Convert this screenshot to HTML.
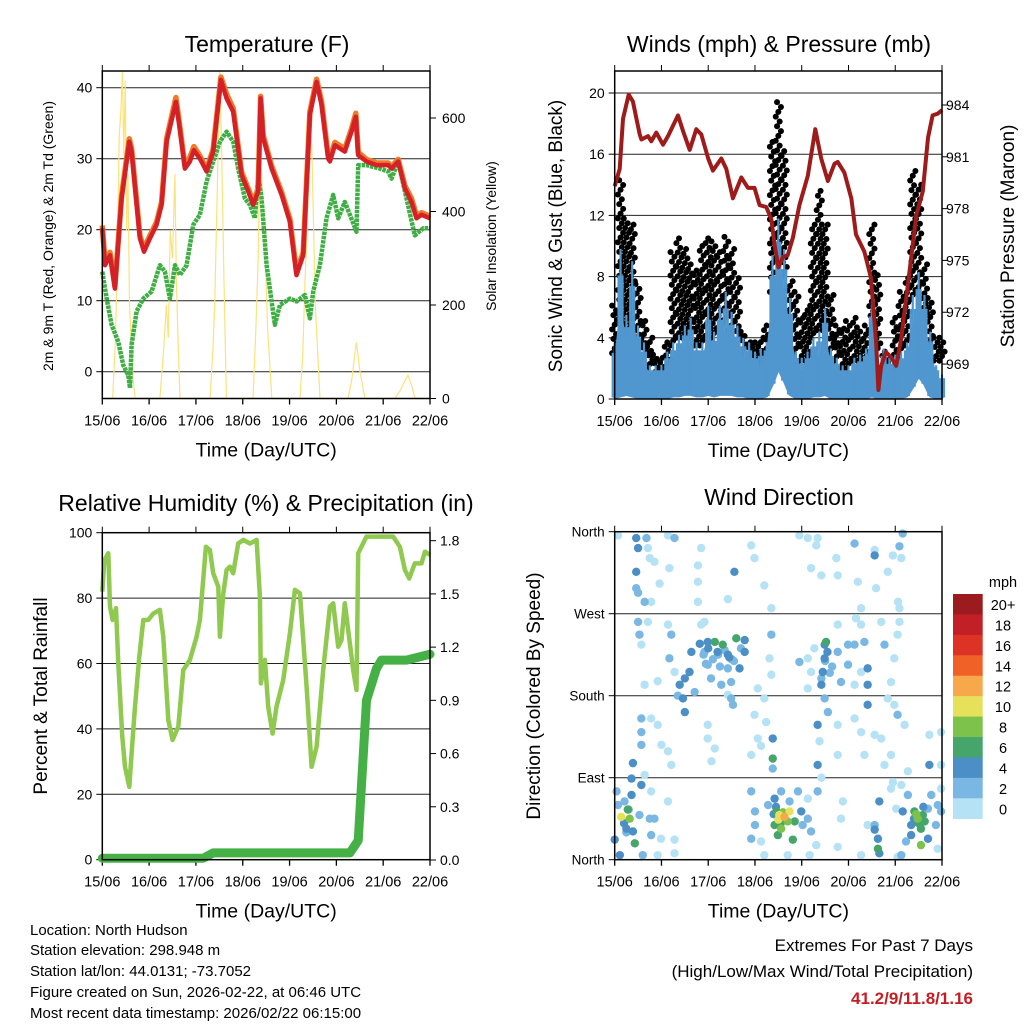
<!DOCTYPE html>
<html><head><meta charset="utf-8"><style>
html,body{margin:0;padding:0;background:#fff;}
svg{display:block;font-family:"Liberation Sans",sans-serif;}
</style></head><body>
<svg id="fig" width="1024" height="1024" viewBox="0 0 1024 1024" xmlns="http://www.w3.org/2000/svg">
<rect x="0" y="0" width="1024" height="1024" fill="#fff"/>
<text x="267" y="52" font-size="23" text-anchor="middle">Temperature (F)</text>
<text x="779" y="52" font-size="23" text-anchor="middle">Winds (mph) &amp; Pressure (mb)</text>
<text x="266" y="511" font-size="23" text-anchor="middle">Relative Humidity (%) &amp; Precipitation (in)</text>
<text x="779" y="505" font-size="23" text-anchor="middle">Wind Direction</text>
<text transform="translate(53,236) rotate(-90)" font-size="14" text-anchor="middle">2m &amp; 9m T (Red, Orange) &amp; 2m Td (Green)</text>
<text transform="translate(496,236) rotate(-90)" font-size="14" text-anchor="middle">Solar Insolation (Yellow)</text>
<text transform="translate(562,236) rotate(-90)" font-size="19" text-anchor="middle">Sonic Wind &amp; Gust (Blue, Black)</text>
<text transform="translate(1014,236) rotate(-90)" font-size="19" text-anchor="middle">Station Pressure (Maroon)</text>
<text transform="translate(47,696) rotate(-90)" font-size="19" text-anchor="middle">Percent &amp; Total Rainfall</text>
<text transform="translate(540,696) rotate(-90)" font-size="19" text-anchor="middle">Direction (Colored By Speed)</text>
<g font-size="15">
<text x="30" y="935">Location: North Hudson</text>
<text x="30" y="955">Station elevation: 298.948 m</text>
<text x="30" y="976">Station lat/lon: 44.0131; -73.7052</text>
<text x="30" y="997">Figure created on Sun, 2026-02-22, at 06:46 UTC</text>
<text x="30" y="1018">Most recent data timestamp: 2026/02/22 06:15:00</text>
</g>
<g font-size="17" text-anchor="end">
<text x="973" y="951">Extremes For Past 7 Days</text>
<text x="973" y="977">(High/Low/Max Wind/Total Precipitation)</text>
<text x="973" y="1004" fill="#c41e24" font-weight="bold">41.2/9/11.8/1.16</text>
</g>
<g id="layer"></g>
</svg>
<script>
// ---------- data ----------
const dayLabels = ["15/06","16/06","17/06","18/06","19/06","20/06","21/06","22/06"];
const tempTicks = [0,10,20,30,40];
const solarTicks = [0,200,400,600];
const windTicks = [0,4,8,12,16,20];
const pressTicks = [969,972,975,978,981,984];
const rhTicks = [0,20,40,60,80,100];
const rainTicks = [0,0.3,0.6,0.9,1.2,1.5,1.8];
const dirTicks = [0,90,180,270,360];
const dirLabels = ["North","East","South","West","North"];
const speedBins = ["0","2","4","6","8","10","12","14","16","18","20+"];
const speedColors = ["#b6e2f6","#7ab8e3","#4b8fc6","#46a56b","#7dc24b","#e6e15a","#f7a84a","#ef6127","#dd3327","#c21f26","#9b1b1e"];

const tempT = [0,0.057,0.164,0.27,0.413,0.577,0.626,0.804,0.89,1.018,1.16,1.267,1.374,1.573,1.644,1.765,1.872,1.957,2.085,2.228,2.37,2.534,2.655,2.797,2.975,3.117,3.224,3.331,3.381,3.438,3.616,3.829,4.007,4.149,4.292,4.434,4.577,4.683,4.826,4.861,4.968,5.181,5.324,5.416,5.466,5.644,5.858,6.107,6.178,6.32,6.463,6.605,6.712,6.819,7.0];
const temp2m = [20.2,15.0,16.4,11.7,24.4,32.4,31.0,18.8,16.9,18.8,20.7,23.5,32.4,38.0,34.7,28.6,29.6,31.2,30.0,28.2,31.0,41.1,38.5,36.6,27.7,25.4,23.5,25.4,38.5,32.9,28.6,24.9,21.1,13.6,16.4,36.2,40.8,37.6,30.0,29.6,31.9,31.0,33.8,35.9,30.5,29.6,29.1,29.1,28.6,29.6,25.8,23.9,21.6,22.1,21.6];
const temp9m = [20.6,15.4,16.8,12.0,24.8,32.8,31.4,19.2,17.3,19.2,21.1,23.9,32.8,38.6,35.1,29.0,30.2,31.7,30.4,28.5,31.4,41.5,39.1,37.1,28.1,25.8,23.9,25.8,38.8,33.3,29.0,25.3,21.5,14.0,16.8,36.6,41.2,38.1,30.4,30.1,32.3,31.4,34.2,36.4,30.9,29.9,29.4,29.4,28.9,29.9,26.2,24.4,22.0,22.4,21.9];
const dewT = [0,0.093,0.199,0.342,0.448,0.555,0.591,0.626,0.733,0.875,1.053,1.231,1.338,1.445,1.552,1.658,1.801,1.943,2.085,2.228,2.37,2.512,2.655,2.797,2.904,3.046,3.153,3.26,3.331,3.402,3.509,3.687,3.794,4.007,4.149,4.327,4.434,4.505,4.648,4.79,4.932,5.039,5.181,5.288,5.431,5.466,5.644,5.929,6.107,6.178,6.32,6.463,6.676,6.854,7.0];
const dewV = [14.1,10.3,6.6,4.2,0.9,-0.5,-2.3,3.8,8.5,10.3,11.3,15.0,14.1,10.3,15.0,13.6,15.0,20.7,22.1,26.8,29.6,32.4,33.8,32.4,28.6,24.4,23.5,21.6,27.7,24.4,15.0,6.6,9.4,10.3,9.9,10.8,7.5,11.3,15.0,21.6,24.9,21.6,23.9,22.1,19.7,29.1,29.1,28.6,28.2,27.2,29.6,25.4,19.2,20.2,20.2];
const solarT = [0,0.22,0.28,0.32,0.36,0.4,0.43,0.46,0.49,0.52,0.55,0.58,0.62,0.66,0.7,1.23,1.3,1.37,1.41,1.45,1.5,1.55,1.58,1.62,1.66,2.3,2.36,2.4,2.45,2.51,2.55,2.6,2.65,3.22,3.28,3.33,3.37,3.42,3.47,3.53,3.62,4.22,4.28,4.33,4.38,4.43,4.48,4.55,4.65,5.25,5.33,5.4,5.43,5.5,5.61,6.25,6.35,6.45,6.53,6.6,6.68,7.0];
const solarV = [0,0,120,300,560,620,700,520,680,360,480,200,120,40,0,0,90,200,130,360,300,480,260,120,0,0,100,200,420,700,520,250,0,0,150,300,570,420,350,150,0,0,90,250,380,640,520,200,0,0,40,100,120,60,0,0,15,35,50,30,0,0];

const pressT = [0,0.107,0.178,0.299,0.39,0.534,0.57,0.712,0.783,0.89,1.033,1.14,1.353,1.46,1.603,1.745,1.852,2.0,2.1,2.28,2.386,2.528,2.707,2.85,2.99,3.1,3.24,3.35,3.42,3.5,3.6,3.7,3.81,3.95,4.13,4.29,4.416,4.56,4.7,4.77,4.91,5.06,5.16,5.34,5.48,5.59,5.64,5.7,5.8,5.91,6.02,6.13,6.27,6.45,6.59,6.7,6.8,6.91,7.0];
const pressV = [979.3,980.3,983.2,984.6,984.2,982.3,982.0,982.2,981.9,982.4,981.7,982.2,983.4,982.5,981.4,982.6,982.3,980.9,980.2,980.9,980.3,978.6,979.8,979.2,979.2,978.2,978.1,977.4,975.9,974.6,975.2,975.3,976.3,978.2,979.9,982.6,980.9,979.6,980.6,980.7,980.1,978.6,976.5,975.5,974.0,970.3,967.5,968.9,969.7,969.4,968.9,970.5,973.6,977.6,979.0,982.1,983.4,983.5,983.7];
// 3-hourly wind (mph)
const windHi = [3.7,9.8,5.5,9.0,4.8,3.7,2.2,2.2,2.2,3.1,3.7,4.2,4.8,5.3,3.7,3.7,6.1,4.4,6.1,7.0,5.7,4.8,4.0,3.7,3.1,3.3,3.7,9.4,11.8,9.8,6.6,3.1,2.7,3.1,4.0,4.4,5.9,3.3,2.7,2.2,2.2,2.7,2.9,3.3,6.4,2.2,3.3,2.7,2.9,3.1,3.7,6.8,8.3,6.8,4.4,2.2,1.6];
const windMid = [2.0,5.5,3.5,5.0,3.0,2.2,1.4,1.4,1.4,2.0,2.4,2.8,3.2,3.4,2.4,2.4,3.8,2.9,3.8,4.3,3.6,3.0,2.6,2.4,2.0,2.1,2.4,6.0,8.0,6.5,4.0,2.0,1.7,2.0,2.6,2.8,3.6,2.1,1.7,1.4,1.4,1.7,1.8,2.1,3.9,1.4,2.1,1.7,1.8,2.0,2.4,4.5,5.5,4.5,2.8,1.4,1.0];
const windLo = [0.1,0.2,0.3,0.2,0.1,0.1,0.1,0.1,0.1,0.1,0.2,0.2,0.3,0.3,0.2,0.2,0.3,0.2,0.3,0.3,0.3,0.2,0.2,0.1,0.1,0.1,0.2,1.0,2.0,1.2,0.3,0.1,0.1,0.1,0.2,0.2,0.3,0.1,0.1,0.1,0.1,0.1,0.1,0.1,0.2,0.1,0.1,0.1,0.1,0.1,0.2,0.8,1.5,1.0,0.2,0.1,0.1];
const gustHi = [6.1,14.3,11.8,11.4,7.5,5.1,4.0,2.9,2.7,3.7,9.6,10.5,9.8,8.8,8.4,10.0,10.5,10.3,9.6,10.6,9.8,7.9,4.4,3.7,3.7,4.0,4.8,16.8,19.4,16.2,7.7,7.0,5.3,6.1,11.4,13.6,11.4,6.8,4.8,4.6,5.1,5.3,4.4,4.8,11.4,8.1,3.1,2.7,5.3,7.0,7.9,14.9,14.0,8.8,6.6,4.0,4.0];
const gustLo = [3.0,4.0,4.0,4.0,3.0,2.5,2.0,1.5,1.5,2.0,3.5,4.0,4.0,4.0,3.5,3.5,4.0,4.0,4.5,5.0,4.5,3.5,3.0,2.5,2.0,2.0,3.0,7.0,9.0,8.0,4.0,3.0,2.5,2.5,4.0,4.5,4.5,3.0,2.5,2.0,2.0,2.5,2.5,2.5,4.5,3.0,2.0,1.5,2.0,3.0,3.5,6.5,7.0,5.0,3.5,2.5,2.5];

const rhT = [0,0.043,0.128,0.164,0.221,0.292,0.342,0.427,0.484,0.577,0.626,0.698,0.79,0.875,0.982,1.089,1.231,1.302,1.409,1.502,1.623,1.73,1.872,2.014,2.085,2.214,2.299,2.37,2.477,2.512,2.584,2.655,2.726,2.797,2.904,3.011,3.153,3.295,3.367,3.388,3.473,3.544,3.637,3.722,3.865,4.007,4.114,4.221,4.363,4.47,4.577,4.719,4.861,4.932,5.039,5.11,5.181,5.253,5.359,5.431,5.466,5.644,5.929,6.214,6.356,6.463,6.555,6.676,6.819,6.89,7.0];
const rhV = [82.0,91.6,93.7,77.4,73.3,76.9,60.0,37.6,28.4,22.3,32.5,46.8,62.1,73.3,73.3,75.3,76.4,68.2,42.7,36.6,40.7,58.0,61.1,68.2,73.3,95.7,94.7,87.6,83.5,68.2,81.4,88.6,89.6,87.6,96.7,97.8,96.7,97.8,80.4,53.9,61.1,46.8,38.6,46.8,54.9,69.2,82.5,81.5,52.9,28.4,34.6,58.0,77.4,78.4,65.1,67.2,78.4,70.2,58.0,51.9,93.7,98.8,98.8,98.8,95.7,88.6,86.0,90.6,90.6,94.2,93.2];
const rainT = [0,2.157,2.37,5.288,5.466,5.573,5.644,5.858,5.964,6.498,7.0];
const rainV = [0.01,0.01,0.04,0.04,0.11,0.585,0.9,1.08,1.127,1.127,1.16];

// wind direction observations: day, degrees, speed (mph)
const dirDay = [0.07,0.46,0.5,0.46,0.46,0.5,0.68,0.71,0.75,0.85,1.14,1.28,1.17,0.96,0.78,0.64,0.71,0.5,0.53,0.57,1.14,1.21,1.17,1.28,0.64,0.92,0.57,0.57,0.57,0.39,0.64,1.0,1.14,1.21,0.92,0.78,
 0.14,0.32,0.28,0.07,0.36,0.36,0,0.11,0.39,0.43,0.53,0.57,0.75,0.85,0.78,0.99,1.28,1.28,0.6,0.92,1.14,0.78,0.04,0.21,0.25,
 1.39,1.46,1.5,1.5,1.6,1.64,1.35,1.71,1.82,1.99,2.14,2.31,2.6,2.78,2.78,2.67,2.42,2.21,1.99,2.06,2.28,2.49,2.42,1.92,1.85,1.78,1.78,1.78,1.92,2.53,2.49,2.42,1.99,2.07,1.99,2.14,
 1.85,2.56,2.42,2.92,2.99,3.2,3.35,3.35,3.31,3.35,3.06,3.2,2.99,3.24,3.06,2.92,3.38,3.38,3.38,3.13,
 2.92,3.0,3.0,2.92,3.13,3.2,3.28,3.42,3.46,3.52,3.63,3.74,3.7,3.56,3.42,3.49,3.81,3.85,3.99,4.02,4.13,4.2,3.92,4.13,4.34,4.31,4.17,3.7,4.77,4.88,4.84,3.74,3.56,
 4.49,4.49,4.45,4.42,4.49,4.56,4.42,4.52,4.77,4.99,5.13,5.34,4.99,4.84,5.13,5.27,5.41,5.41,5.41,5.77,5.98,5.91,5.84,6.05,3.95,4.13,4.2,4.13,4.27,4.77,5.16,5.27,5.7,6.09,
 3.95,4.13,4.34,4.31,4.2,4.42,4.77,4.74,5.13,5.2,5.56,5.56,5.59,5.27,5.84,5.95,6.09,6.16,6.06,6.09,6.13,
 4.34,4.38,4.34,4.42,4.77,4.77,5.13,5.27,5.34,5.56,5.7,5.77,5.91,5.98,6.05,6.2,6.27,6.73,6.73,6.98,6.98,
 5.56,5.63,5.66,5.63,5.56,5.66,5.41,5.27,6.05,6.13,5.91,5.95,
 6.16,6.34,6.34,6.41,6.48,6.59,6.55,6.55,6.63,6.7,6.77,6.91,6.98,6.98,6.87,6.91,6.7,6.27,6.13,6.02,6.23,
 1.9,2.0,2.1,2.2,2.35,2.45,2.55,2.7,1.95,2.25,2.5,3.4,3.5,3.6,3.55,3.45,4.5,4.6,4.55,4.65,6.45,6.5,6.6,6.4,0.2,0.3,0.25];
const dirDeg = [356,353,342,316,298,293,353,342,331,327,356,353,320,303,283,283,261,261,247,236,258,247,221,206,192,196,155,140,126,106,93,126,119,104,148,155,
 47,45,55,60,71,89,22,5,31,18,49,82,45,45,27,23,22,7,5,5,64,75,75,64,34,
 192,177,162,199,206,228,180,184,237,239,239,236,243,241,228,210,225,225,214,199,192,195,210,228,258,283,305,323,261,170,177,181,148,108,133,122,
 342,316,286,345,331,301,276,247,221,203,188,177,159,151,133,115,133,111,100,125,
 75,53,38,23,20,5,60,67,53,49,47,53,42,34,38,27,22,42,53,38,45,31,75,67,75,16,5,5,14,64,45,64,75,
 236,221,206,192,177,162,199,239,228,236,236,239,214,195,192,206,210,192,170,236,221,195,177,247,217,221,206,188,232,258,265,258,261,261,
 356,353,353,345,320,312,312,331,347,305,334,340,298,276,316,334,344,358,283,276,331,
 148,130,104,90,148,115,155,140,115,137,133,104,115,170,159,148,97,104,137,140,104,
 33,23,7,12,38,64,38,5,3,5,78,85,
 53,27,38,53,45,49,34,16,42,56,71,60,53,78,38,12,23,71,82,56,20,
 225,232,220,228,230,222,218,232,215,212,220,50,44,52,40,58,218,205,228,212,50,40,58,45,40,55,30];
const dirSpd = [1,5,5,5,3,3,3,1,1,1,1,3,1,1,1,3,1,3,3,1,1,3,3,1,1,1,3,3,3,5,1,1,1,1,1,1,
 11,9,7,3,5,5,5,5,5,7,3,5,3,3,3,1,1,1,3,1,1,1,3,3,5,
 5,5,5,5,5,5,3,3,5,5,7,7,7,5,5,5,5,3,3,3,3,3,3,3,1,1,1,1,1,3,3,1,1,1,1,1,
 1,5,1,1,1,1,1,3,1,1,1,1,1,1,1,1,5,7,3,1,
 3,3,3,3,1,1,3,5,7,11,13,11,9,9,7,7,7,7,5,3,3,3,3,1,3,1,1,1,1,1,1,3,3,
 5,5,5,5,3,3,3,7,3,3,3,3,3,3,1,1,5,5,5,3,1,1,1,1,3,1,1,1,1,1,1,1,1,1,
 1,1,1,1,1,1,1,1,3,1,5,1,1,1,1,1,3,3,1,1,1,
 5,1,5,1,1,1,1,1,1,1,1,1,1,1,3,1,1,5,1,1,1,
 5,5,5,7,3,5,1,1,1,3,1,1,
 5,5,5,7,9,7,7,9,7,3,3,3,3,1,3,1,5,3,1,1,3,
 3,5,3,5,3,5,3,3,3,3,3,5,11,9,7,5,3,3,5,3,9,7,5,5,5,3,3];

// ---------- drawing ----------
const NS = "http://www.w3.org/2000/svg";
const layer = document.getElementById("layer");
function el(tag, attrs, parent) {
  const e = document.createElementNS(NS, tag);
  for (const k in attrs) e.setAttribute(k, attrs[k]);
  (parent || layer).appendChild(e);
  return e;
}
function txt(x, y, s, size, anchor, parent) {
  const t = el("text", {x: x, y: y, "font-size": size, "text-anchor": anchor}, parent);
  t.textContent = s;
  return t;
}
function lineXY(ts, vs, xf, yf) {
  return ts.map((t, i) => xf(t).toFixed(1) + "," + yf(vs[i]).toFixed(1)).join(" ");
}

function panelFrame(name, L, R, T, B, xf) {
  const g = el("g", {});
  
  
  dayLabels.forEach((lab, i) => {
    const x = xf(i);
    el("line", {x1: x, x2: x, y1: B, y2: B + 6, stroke: "#000", "stroke-width": 1.3}, g);
    el("line", {x1: x, x2: x, y1: T, y2: T - 6, stroke: "#000", "stroke-width": 1}, g);
    const t = txt(x, B + 27, lab, 14.5, "middle", g);
    
    
  });
  const xt = txt((L + R) / 2, B + 58, "Time (Day/UTC)", 19.5, "middle", g);
  
  
  return g;
}
function frameRect(L, R, T, B) {
  const r = el("rect", {x: L, y: T, width: R - L, height: B - T, fill: "none", stroke: "#000", "stroke-width": 1.5});
  
  
}
function hgrid(y, L, R) {
  const l = el("line", {x1: L, x2: R, y1: y, y2: y, stroke: "#222", "stroke-width": 1});
  
  
}

// ===== Panel 1: Temperature =====
(function(){
  const L = 102.3, R = 430, T = 71, B = 398.5;
  const xf = d => L + d * (R - L) / 7;
  const yT = v => 371.7 - v * 7.1;
  const yS = v => 398.5 - v * 0.4675;
  tempTicks.forEach(v => {
    hgrid(yT(v), L, R);
    el("line", {x1: L - 6, x2: L, y1: yT(v), y2: yT(v), stroke: "#000"});
    const t = txt(L - 10, yT(v) + 5, String(v), 14, "end");
    
    
  });
  solarTicks.forEach(v => {
    el("line", {x1: R, x2: R + 6, y1: yS(v), y2: yS(v), stroke: "#000"});
    const t = txt(R + 12, yS(v) + 5, String(v), 14, "start");
    
    
  });
  panelFrame("temperature", L, R, T, B, xf);
  const s = el("polyline", {points: lineXY(solarT, solarV, xf, yS), fill: "none", stroke: "#fbe27a", "stroke-width": 1.2});
  
  
  const d = el("polyline", {points: lineXY(dewT, dewV, xf, yT), fill: "none", stroke: "#3fae44", "stroke-width": 4.5, "stroke-dasharray": "3.5,0.8", "stroke-linejoin": "round"});
  
  
  const o = el("polyline", {points: lineXY(tempT, temp9m, xf, yT), fill: "none", stroke: "#f07a2a", "stroke-width": 5.5, "stroke-linejoin": "round"});
  
  
  const r = el("polyline", {points: lineXY(tempT, temp2m, xf, yT), fill: "none", stroke: "#d42027", "stroke-width": 4.5, "stroke-linejoin": "round"});
  
  
  frameRect(L, R, T, B);
})();

// ===== Panel 2: Winds & Pressure =====
(function(){
  const L = 614.7, R = 942, T = 71, B = 399;
  const xf = d => L + d * (R - L) / 7;
  const yW = v => 399 - v * 15.3;
  const yP = v => 105 + (984 - v) * 17.27;
  windTicks.forEach(v => {
    hgrid(yW(v), L, R);
    el("line", {x1: L - 6, x2: L, y1: yW(v), y2: yW(v), stroke: "#000"});
    const t = txt(L - 10, yW(v) + 5, String(v), 14, "end");
    
    
  });
  pressTicks.forEach(v => {
    el("line", {x1: R, x2: R + 6, y1: yP(v), y2: yP(v), stroke: "#000"});
    const t = txt(R + 4, yP(v) + 5, String(v), 14, "start");
    
    
  });
  panelFrame("winds", L, R, T, B, xf);
  const step = 7 / (gustHi.length - 1);
  const gg = el("g", {});
  
  
  gustHi.forEach((v, i) => {
    const lo = gustLo[i];
    const n = Math.max(2, Math.ceil((v - lo) / 0.32));
    for (let k = 0; k <= n; k++) {
      const val = lo + (v - lo) * k / n;
      const dx = ((k * 7) % 5 - 2) * 1.3;
      const c = el("circle", {cx: xf(i * step) + dx, cy: yW(val), r: 3.0, fill: "#000"}, gg);
      
    }
  });
  const wg = el("g", {});
  
  
  const ts = windHi.map((v, i) => i * step);
  const pMid = lineXY(ts, windMid, xf, yW) + " " + lineXY(ts.slice().reverse(), windLo.slice().reverse(), xf, yW);
  const pm = el("polygon", {points: pMid, fill: "#5096cf", stroke: "#5096cf", "stroke-width": 3, "stroke-linejoin": "round"}, wg);
  
  windHi.forEach((v, i) => {
    const x = xf(i * step);
    [-2, 0, 2].forEach((dx, j) => {
      const top = j === 1 ? v : windMid[i] + (v - windMid[i]) * 0.6;
      const ln = el("line", {x1: x + dx, x2: x + dx, y1: yW(windLo[i]), y2: yW(top), stroke: "#5096cf", "stroke-width": 2.2}, wg);
      
    });
  });
  const pl = el("polyline", {points: lineXY(pressT, pressV, xf, yP), fill: "none", stroke: "#9e1b1b", "stroke-width": 4, "stroke-linejoin": "round"});
  
  
  frameRect(L, R, T, B);
})();

// ===== Panel 3: RH & Precip =====
(function(){
  const L = 102.3, R = 430, T = 532.7, B = 859.7;
  const xf = d => L + d * (R - L) / 7;
  const yR = v => B - v * 3.27;
  const yRain = v => 860 - v * 177.4;
  rhTicks.forEach(v => {
    if (v > 0 && v < 100) hgrid(yR(v), L, R);
    el("line", {x1: L - 6, x2: L, y1: yR(v), y2: yR(v), stroke: "#000"});
    const t = txt(L - 10, yR(v) + 5, String(v), 14, "end");
    
    
  });
  rainTicks.forEach(v => {
    el("line", {x1: R, x2: R + 6, y1: yRain(v), y2: yRain(v), stroke: "#000"});
    const t2 = txt(R + 10, yRain(v) + 5, v.toFixed(1), 14, "start");
    
    
  });
  panelFrame("humidity", L, R, T, B, xf);
  const rh = el("polyline", {points: lineXY(rhT, rhV, xf, yR), fill: "none", stroke: "#8fc94f", "stroke-width": 4.5, "stroke-linejoin": "round"});
  
  
  const rn = el("polyline", {points: lineXY(rainT, rainV, xf, yRain), fill: "none", stroke: "#45b046", "stroke-width": 9, "stroke-linejoin": "round", "stroke-linecap": "round"});
  
  
  frameRect(L, R, T, B);
})();

// ===== Panel 4: Wind Direction =====
(function(){
  const L = 614.7, R = 942, T = 531.7, B = 859.7;
  const xf = d => L + d * (R - L) / 7;
  const yD = v => B - v * (B - T) / 360;
  dirTicks.forEach((v, i) => {
    if (v > 0 && v < 360) hgrid(yD(v), L, R);
    el("line", {x1: L - 6, x2: L, y1: yD(v), y2: yD(v), stroke: "#000"});
    const t = txt(L - 10, yD(v) + 5, dirLabels[i], 13.5, "end");
    
    
  });
  panelFrame("direction", L, R, T, B, xf);
  const g = el("g", {});
  
  
  const order = dirSpd.map((s, i) => i).sort((a, b) => dirSpd[a] - dirSpd[b]);
  order.forEach(i => {
    const bin = Math.min(10, Math.floor(dirSpd[i] / 2));
    const c = el("circle", {cx: xf(dirDay[i]), cy: yD(dirDeg[i]), r: 4.2, fill: speedColors[bin]}, g);
    
  });
  frameRect(L, R, T, B);
  const cb = el("g", {});
  
  
  const cbT = 594, h = 20.43;
  const u = txt(1003, 587, "mph", 14.5, "middle", cb);
  
  speedBins.forEach((lab, i) => {
    const k = 10 - i;
    const y = cbT + i * h;
    const r = el("rect", {x: 953, y: y, width: 29.7, height: h + 0.3, fill: speedColors[k]}, cb);
    
    const t = txt(1003, y + 16, speedBins[k], 14.5, "middle", cb);
    
  });
})();
</script>
</body></html>
